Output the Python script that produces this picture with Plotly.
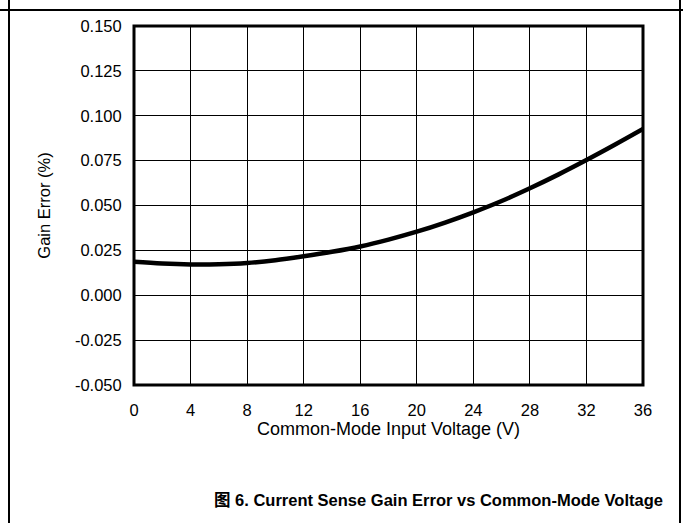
import plotly.graph_objects as go

# Data
voltage = [0, 2, 4, 6, 8, 10, 12, 14, 16, 18, 20, 22, 24, 26, 28, 30, 32, 34, 36]
gain_error = [0.0187, 0.0177, 0.0172, 0.0173, 0.0180, 0.0195, 0.0217, 0.0242, 0.0272,
              0.0310, 0.0354, 0.0405, 0.0462, 0.0525, 0.0596, 0.0672, 0.0753, 0.0838, 0.0926]
x_ticks = [0, 4, 8, 12, 16, 20, 24, 28, 32, 36]
y_ticks = [-0.050, -0.025, 0.000, 0.025, 0.050, 0.075, 0.100, 0.125, 0.150]
y_tick_labels = ["-0.050", "-0.025", "0.000", "0.025", "0.050", "0.075", "0.100", "0.125", "0.150"]
x_title = "Common-Mode Input Voltage (V)"
y_title = "Gain Error (%)"
caption = "图 6. Current Sense Gain Error vs Common-Mode Voltage"

W, H = 683, 523
L, R, T, B = 134, 643, 26, 385
pw, ph = R - L, B - T

def px(x):
    return (x - L) / pw

def py(y):
    return (B - y) / ph

FONT = "Liberation Sans, Arial, sans-serif"

fig = go.Figure()
fig.add_trace(go.Scatter(
    x=voltage, y=gain_error, mode="lines",
    line=dict(color="black", width=4.5, shape="spline", smoothing=1.0),
    showlegend=False, hoverinfo="x+y",
))

fig.update_layout(
    width=W, height=H,
    margin=dict(l=L, r=W - R, t=T, b=H - B, pad=0),
    paper_bgcolor="white", plot_bgcolor="white",
    font=dict(family=FONT, color="black", size=16),
    xaxis=dict(
        range=[0, 36], tickvals=x_ticks, ticktext=[str(v) for v in x_ticks],
        showgrid=True, gridcolor="black", gridwidth=1, zeroline=False,
        showline=False, ticks="outside", ticklen=10, tickcolor="rgba(0,0,0,0)",
        tickfont=dict(size=16.5, family=FONT),
        title=dict(text=x_title, font=dict(size=18, family=FONT), standoff=0),
    ),
    yaxis=dict(
        range=[-0.05, 0.15], tickvals=y_ticks, ticktext=y_tick_labels,
        showgrid=True, gridcolor="black", gridwidth=1, zeroline=False,
        showline=False, ticks="outside", ticklen=8, tickcolor="rgba(0,0,0,0)",
        tickfont=dict(size=16.5, family=FONT),
        title=dict(text=y_title, font=dict(size=16.5, family=FONT), standoff=20),
    ),
    shapes=[
        # plot border
        dict(type="rect", xref="paper", yref="paper", x0=0, x1=1, y0=0, y1=1,
             line=dict(color="black", width=3), layer="above"),
        # outer frame lines
        dict(type="line", xref="paper", yref="paper", x0=px(0), x1=px(683), y0=py(10), y1=py(10),
             line=dict(color="black", width=2)),
        dict(type="line", xref="paper", yref="paper", x0=px(9), x1=px(9), y0=py(0), y1=py(523),
             line=dict(color="black", width=2)),
        dict(type="line", xref="paper", yref="paper", x0=px(680), x1=px(680), y0=py(0), y1=py(523),
             line=dict(color="black", width=2)),
    ],
    annotations=[
        dict(text="<b>" + caption + "</b>", xref="paper", yref="paper",
             x=px(665), y=py(500), xanchor="right", yanchor="middle", showarrow=False,
             font=dict(size=16.5, family="Liberation Sans, Arial, Noto Sans CJK SC, sans-serif")),
    ],
)

fig.write_html(
    "out.html",
    config={"displayModeBar": False},
    post_script="document.body.style.margin='0';document.body.style.overflow='hidden';",
)
